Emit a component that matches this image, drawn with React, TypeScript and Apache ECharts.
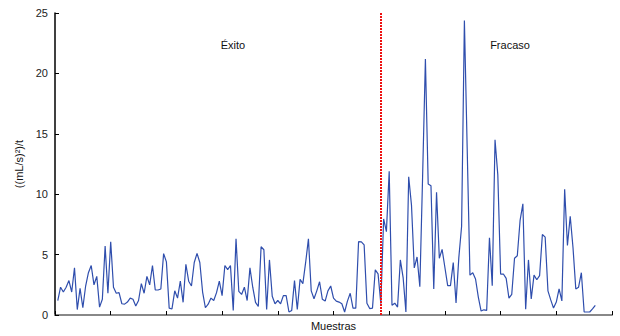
import React, { useEffect, useRef } from "react";
import * as echarts from "echarts";

const valuesA = [1.2, 2.3, 1.9, 2.3, 2.85, 1.9, 3.9, 0.45, 2.2, 0.6, 2.4, 3.5, 4.1, 2.5, 3.2, 0.65, 1.3, 5.7, 1.8, 6.07, 2.3, 1.8, 1.85, 0.93, 0.9, 1.07, 1.4, 1.3, 0.74, 1.2, 2.6, 1.8, 3.2, 2.5, 4.1, 2.07, 2.07, 2.15, 5.08, 4.4, 0.57, 0.5, 2.0, 1.4, 2.8, 1.05, 4.2, 2.8, 2.4, 4.35, 5.1, 4.35, 1.9];
const valuesB = [0.6, 0.9, 1.4, 1.2, 1.85, 2.8, 1.6, 4.1, 3.75, 4.1, 0.38, 6.3, 1.95, 1.7, 2.3, 1.2, 3.9, 2.3, 1.05, 0.7, 5.65, 5.4, 0.46, 4.56, 1.55, 0.93, 1.2, 0.93, 1.6, 1.6, 0.25, 0.38, 2.85, 0.46, 2.95, 2.6, 4.35, 6.3, 2.0, 1.35, 2.0, 2.75, 1.3, 1.15, 2.0, 2.4, 1.4, 1.15, 1.07, 0.93, 0.25, 1.15];
const valuesC = [1.8, 0.57, 0.57, 6.07, 6.05, 5.8, 0.98, 0.53, 0.57, 3.74, 3.4, 0.93, 7.95, 6.9, 11.9, 0.8, 0.98, 0.66, 4.56, 3.1, 0.25, 11.45, 9.1, 3.9, 4.8, 2.35, 11.5, 21.2, 10.85, 10.7, 2.15, 10.16, 4.7, 5.43, 3.93, 2.43, 2.43, 4.34, 1.0, 4.75, 7.35, 24.37, 13.8, 3.3, 3.5];
const valuesD = [2.98, 1.48, 0.33, 0.43, 0.38, 6.4, 2.43, 14.5, 11.6, 3.39, 3.39, 3.03, 1.39, 1.7, 4.7, 4.9, 7.84, 9.2, 0.47, 4.56, 1.33, 3.3, 2.92, 3.26, 6.66, 6.45, 2.0, 1.25, 0.57, 1.07, 2.16, 1.17, 10.4, 5.76, 8.17, 5.57, 2.16, 2.3, 3.5, 0.25, 0.25, 0.25, 0.5, 0.8];

const yTicks = [0, 5, 10, 15, 20, 25];
const splitSample = 117;
const regionLabels = ["Éxito", "Fracaso"];
const xTitle = "Muestras";
const yTitle = "((mL/s)²)/t";

export default function App() {
  const ref = useRef<HTMLDivElement>(null);
  useEffect(() => {
    if (!ref.current) return;
    const chart = echarts.init(ref.current, null, { renderer: "svg" });
    const all = [...valuesA, ...valuesB, ...valuesC, ...valuesD];
    const data = all.map((v, i) => [i + 1, v]);
    const font = "'Liberation Sans', Arial, sans-serif";
    chart.setOption({
      animation: false,
      backgroundColor: "#fff",
      grid: { left: 55, right: 8, top: 13, bottom: 16 },
      xAxis: {
        type: "value",
        min: 0,
        max: 200,
        interval: 20,
        name: xTitle,
        nameLocation: "middle",
        nameGap: 5,
        nameTextStyle: { fontFamily: font, fontSize: 11, color: "#111" },
        axisLabel: { show: false },
        axisTick: { show: true, inside: true, length: 4, lineStyle: { color: "#000", width: 1 } },
        axisLine: { show: true, lineStyle: { color: "#888", width: 2 } },
        splitLine: { show: false },
      },
      yAxis: {
        type: "value",
        min: yTicks[0],
        max: yTicks[yTicks.length - 1],
        interval: 5,
        name: yTitle,
        nameLocation: "middle",
        nameRotate: 90,
        nameGap: 27,
        nameTextStyle: { fontFamily: font, fontSize: 11, color: "#111" },
        axisLabel: { fontFamily: font, fontSize: 11, color: "#222", margin: 7 },
        axisTick: { show: true, inside: true, length: 4, lineStyle: { color: "#000" } },
        axisLine: { show: true, lineStyle: { color: "#000", width: 1.5 } },
        splitLine: { show: false },
      },
      graphic: [
        { type: "text", x: 233, y: 45, style: { text: regionLabels[0], font: `11px ${font}`, fill: "#111", align: "center", verticalAlign: "middle" } },
        { type: "text", x: 510, y: 45, style: { text: regionLabels[1], font: `11px ${font}`, fill: "#111", align: "center", verticalAlign: "middle" } },
      ],
      series: [
        {
          type: "line",
          data,
          showSymbol: false,
          symbol: "none",
          lineStyle: { color: "#2f4ead", width: 1.2 },
          markLine: {
            silent: true,
            symbol: "none",
            label: { show: false },
            lineStyle: { color: "#ee1111", type: [2, 1], width: 2 },
            data: [[{ coord: [splitSample, 0] }, { coord: [splitSample, 25] }]],
          },
        },
      ],
    });
    return () => chart.dispose();
  }, []);
  return <div ref={ref} style={{ width: 620, height: 336, position: "absolute", left: 0, top: 0 }} />;
}
